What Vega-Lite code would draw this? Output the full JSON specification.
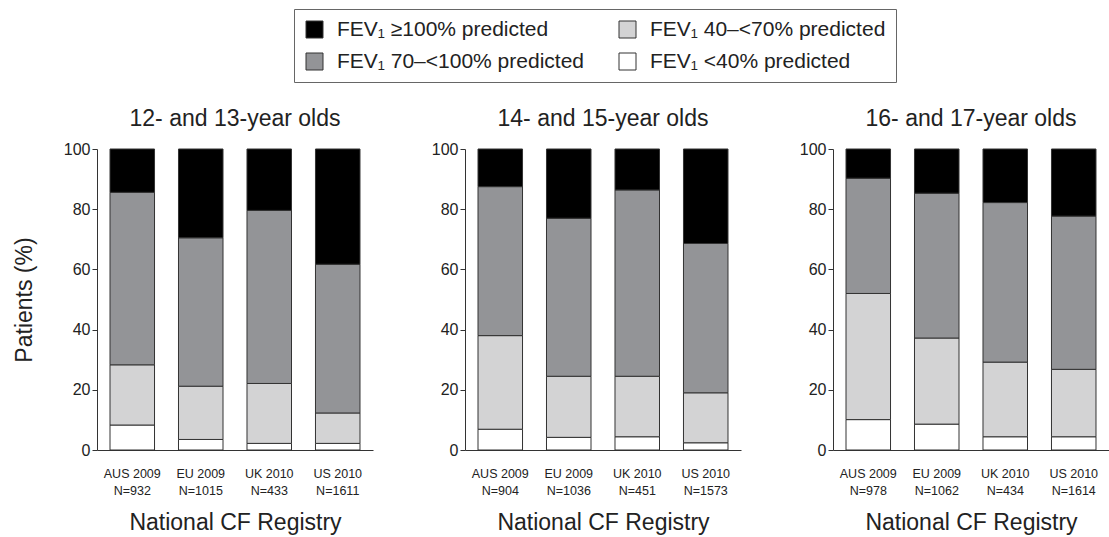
{
  "$schema": "https://vega.github.io/schema/vega-lite/v6.json",
  "background": "white",
  "padding": {"left": 13, "top": 8, "right": 0, "bottom": 5},
  "datasets": {
    "d": [
      {"age": "12", "reg": "AUS 2009|N=932", "cat": "FEV₁ <40% predicted", "rank": 1, "pct": 8.3},
      {"age": "12", "reg": "AUS 2009|N=932", "cat": "FEV₁ 40–<70% predicted", "rank": 2, "pct": 20.0},
      {"age": "12", "reg": "AUS 2009|N=932", "cat": "FEV₁ 70–<100% predicted", "rank": 3, "pct": 57.3},
      {"age": "12", "reg": "AUS 2009|N=932", "cat": "FEV₁ ≥100% predicted", "rank": 4, "pct": 14.4},
      {"age": "12", "reg": "EU 2009|N=1015", "cat": "FEV₁ <40% predicted", "rank": 1, "pct": 3.5},
      {"age": "12", "reg": "EU 2009|N=1015", "cat": "FEV₁ 40–<70% predicted", "rank": 2, "pct": 17.7},
      {"age": "12", "reg": "EU 2009|N=1015", "cat": "FEV₁ 70–<100% predicted", "rank": 3, "pct": 49.3},
      {"age": "12", "reg": "EU 2009|N=1015", "cat": "FEV₁ ≥100% predicted", "rank": 4, "pct": 29.5},
      {"age": "12", "reg": "UK 2010|N=433", "cat": "FEV₁ <40% predicted", "rank": 1, "pct": 2.2},
      {"age": "12", "reg": "UK 2010|N=433", "cat": "FEV₁ 40–<70% predicted", "rank": 2, "pct": 19.9},
      {"age": "12", "reg": "UK 2010|N=433", "cat": "FEV₁ 70–<100% predicted", "rank": 3, "pct": 57.5},
      {"age": "12", "reg": "UK 2010|N=433", "cat": "FEV₁ ≥100% predicted", "rank": 4, "pct": 20.4},
      {"age": "12", "reg": "US 2010|N=1611", "cat": "FEV₁ <40% predicted", "rank": 1, "pct": 2.2},
      {"age": "12", "reg": "US 2010|N=1611", "cat": "FEV₁ 40–<70% predicted", "rank": 2, "pct": 10.1},
      {"age": "12", "reg": "US 2010|N=1611", "cat": "FEV₁ 70–<100% predicted", "rank": 3, "pct": 49.4},
      {"age": "12", "reg": "US 2010|N=1611", "cat": "FEV₁ ≥100% predicted", "rank": 4, "pct": 38.3},
      {"age": "14", "reg": "AUS 2009|N=904", "cat": "FEV₁ <40% predicted", "rank": 1, "pct": 6.9},
      {"age": "14", "reg": "AUS 2009|N=904", "cat": "FEV₁ 40–<70% predicted", "rank": 2, "pct": 31.1},
      {"age": "14", "reg": "AUS 2009|N=904", "cat": "FEV₁ 70–<100% predicted", "rank": 3, "pct": 49.5},
      {"age": "14", "reg": "AUS 2009|N=904", "cat": "FEV₁ ≥100% predicted", "rank": 4, "pct": 12.5},
      {"age": "14", "reg": "EU 2009|N=1036", "cat": "FEV₁ <40% predicted", "rank": 1, "pct": 4.2},
      {"age": "14", "reg": "EU 2009|N=1036", "cat": "FEV₁ 40–<70% predicted", "rank": 2, "pct": 20.3},
      {"age": "14", "reg": "EU 2009|N=1036", "cat": "FEV₁ 70–<100% predicted", "rank": 3, "pct": 52.5},
      {"age": "14", "reg": "EU 2009|N=1036", "cat": "FEV₁ ≥100% predicted", "rank": 4, "pct": 23.0},
      {"age": "14", "reg": "UK 2010|N=451", "cat": "FEV₁ <40% predicted", "rank": 1, "pct": 4.4},
      {"age": "14", "reg": "UK 2010|N=451", "cat": "FEV₁ 40–<70% predicted", "rank": 2, "pct": 20.1},
      {"age": "14", "reg": "UK 2010|N=451", "cat": "FEV₁ 70–<100% predicted", "rank": 3, "pct": 61.9},
      {"age": "14", "reg": "UK 2010|N=451", "cat": "FEV₁ ≥100% predicted", "rank": 4, "pct": 13.6},
      {"age": "14", "reg": "US 2010|N=1573", "cat": "FEV₁ <40% predicted", "rank": 1, "pct": 2.4},
      {"age": "14", "reg": "US 2010|N=1573", "cat": "FEV₁ 40–<70% predicted", "rank": 2, "pct": 16.6},
      {"age": "14", "reg": "US 2010|N=1573", "cat": "FEV₁ 70–<100% predicted", "rank": 3, "pct": 49.6},
      {"age": "14", "reg": "US 2010|N=1573", "cat": "FEV₁ ≥100% predicted", "rank": 4, "pct": 31.4},
      {"age": "16", "reg": "AUS 2009|N=978", "cat": "FEV₁ <40% predicted", "rank": 1, "pct": 10.1},
      {"age": "16", "reg": "AUS 2009|N=978", "cat": "FEV₁ 40–<70% predicted", "rank": 2, "pct": 41.9},
      {"age": "16", "reg": "AUS 2009|N=978", "cat": "FEV₁ 70–<100% predicted", "rank": 3, "pct": 38.3},
      {"age": "16", "reg": "AUS 2009|N=978", "cat": "FEV₁ ≥100% predicted", "rank": 4, "pct": 9.7},
      {"age": "16", "reg": "EU 2009|N=1062", "cat": "FEV₁ <40% predicted", "rank": 1, "pct": 8.6},
      {"age": "16", "reg": "EU 2009|N=1062", "cat": "FEV₁ 40–<70% predicted", "rank": 2, "pct": 28.6},
      {"age": "16", "reg": "EU 2009|N=1062", "cat": "FEV₁ 70–<100% predicted", "rank": 3, "pct": 48.1},
      {"age": "16", "reg": "EU 2009|N=1062", "cat": "FEV₁ ≥100% predicted", "rank": 4, "pct": 14.7},
      {"age": "16", "reg": "UK 2010|N=434", "cat": "FEV₁ <40% predicted", "rank": 1, "pct": 4.4},
      {"age": "16", "reg": "UK 2010|N=434", "cat": "FEV₁ 40–<70% predicted", "rank": 2, "pct": 24.8},
      {"age": "16", "reg": "UK 2010|N=434", "cat": "FEV₁ 70–<100% predicted", "rank": 3, "pct": 53.0},
      {"age": "16", "reg": "UK 2010|N=434", "cat": "FEV₁ ≥100% predicted", "rank": 4, "pct": 17.8},
      {"age": "16", "reg": "US 2010|N=1614", "cat": "FEV₁ <40% predicted", "rank": 1, "pct": 4.4},
      {"age": "16", "reg": "US 2010|N=1614", "cat": "FEV₁ 40–<70% predicted", "rank": 2, "pct": 22.4},
      {"age": "16", "reg": "US 2010|N=1614", "cat": "FEV₁ 70–<100% predicted", "rank": 3, "pct": 50.9},
      {"age": "16", "reg": "US 2010|N=1614", "cat": "FEV₁ ≥100% predicted", "rank": 4, "pct": 22.3}
    ]
  },
  "config": {
    "font": "Liberation Sans",
    "view": {"stroke": null},
    "title": {"fontSize": 23, "fontWeight": "normal", "color": "#222", "offset": 10, "anchor": "middle"},
    "axis": {"grid": false, "domainColor": "#333", "tickColor": "#333", "labelColor": "#222", "titleColor": "#222", "titleFontWeight": "normal"},
    "legend": {"labelFont": "Liberation Sans"}
  },
  "spacing": 58,
  "hconcat": [
    {
      "data": {"name": "d"},
      "transform": [{"filter": "datum.age == '12'"}],
      "title": "12- and 13-year olds",
      "width": 276, "height": 301,
      "mark": {"type": "bar", "stroke": "#333", "strokeWidth": 1},
      "encoding": {
        "x": {"field": "reg", "type": "nominal", "sort": null, "scale": {"paddingInner": 0.35, "paddingOuter": 0.19},
              "axis": {"title": "National CF Registry", "titleFontSize": 23, "titlePadding": 15, "labelAngle": 0, "ticks": false, "labelPadding": 17, "labelFontSize": 12.5, "labelLineHeight": 17, "labelExpr": "split(datum.label, '|')"}},
        "y": {"field": "pct", "type": "quantitative", "stack": "zero", "scale": {"domain": [0, 100], "nice": false},
              "axis": {"title": "Patients (%)", "titleFontSize": 23, "titlePadding": 27, "values": [0, 20, 40, 60, 80, 100], "labelFontSize": 16, "tickSize": 5, "labelPadding": 2}},
        "color": {"field": "cat", "type": "nominal",
                  "scale": {"domain": ["FEV₁ ≥100% predicted", "FEV₁ 70–<100% predicted", "FEV₁ 40–<70% predicted", "FEV₁ <40% predicted"], "range": ["#000000", "#939497", "#d3d3d4", "#ffffff"]},
                  "legend": {"title": null, "orient": "none", "legendX": 197, "legendY": -140, "columns": 2, "columnPadding": 33, "rowPadding": 10, "labelFontSize": 21, "labelLimit": 0, "labelColor": "#222", "symbolType": "square", "symbolSize": 289, "symbolStrokeColor": "#333", "symbolStrokeWidth": 1, "strokeColor": "#666", "fillColor": "white", "padding": 10, "labelOffset": 12}},
        "order": {"field": "rank", "type": "quantitative"}
      }
    },
    {
      "data": {"name": "d"},
      "transform": [{"filter": "datum.age == '14'"}],
      "title": "14- and 15-year olds",
      "width": 276, "height": 301,
      "mark": {"type": "bar", "stroke": "#333", "strokeWidth": 1},
      "encoding": {
        "x": {"field": "reg", "type": "nominal", "sort": null, "scale": {"paddingInner": 0.35, "paddingOuter": 0.19},
              "axis": {"title": "National CF Registry", "titleFontSize": 23, "titlePadding": 15, "labelAngle": 0, "ticks": false, "labelPadding": 17, "labelFontSize": 12.5, "labelLineHeight": 17, "labelExpr": "split(datum.label, '|')"}},
        "y": {"field": "pct", "type": "quantitative", "stack": "zero", "scale": {"domain": [0, 100], "nice": false},
              "axis": {"title": null, "values": [0, 20, 40, 60, 80, 100], "labelFontSize": 16, "tickSize": 5, "labelPadding": 2}},
        "color": {"field": "cat", "type": "nominal"},
        "order": {"field": "rank", "type": "quantitative"}
      }
    },
    {
      "data": {"name": "d"},
      "transform": [{"filter": "datum.age == '16'"}],
      "title": "16- and 17-year olds",
      "width": 276, "height": 301,
      "mark": {"type": "bar", "stroke": "#333", "strokeWidth": 1},
      "encoding": {
        "x": {"field": "reg", "type": "nominal", "sort": null, "scale": {"paddingInner": 0.35, "paddingOuter": 0.19},
              "axis": {"title": "National CF Registry", "titleFontSize": 23, "titlePadding": 15, "labelAngle": 0, "ticks": false, "labelPadding": 17, "labelFontSize": 12.5, "labelLineHeight": 17, "labelExpr": "split(datum.label, '|')"}},
        "y": {"field": "pct", "type": "quantitative", "stack": "zero", "scale": {"domain": [0, 100], "nice": false},
              "axis": {"title": null, "values": [0, 20, 40, 60, 80, 100], "labelFontSize": 16, "tickSize": 5, "labelPadding": 2}},
        "color": {"field": "cat", "type": "nominal"},
        "order": {"field": "rank", "type": "quantitative"}
      }
    }
  ]
}
